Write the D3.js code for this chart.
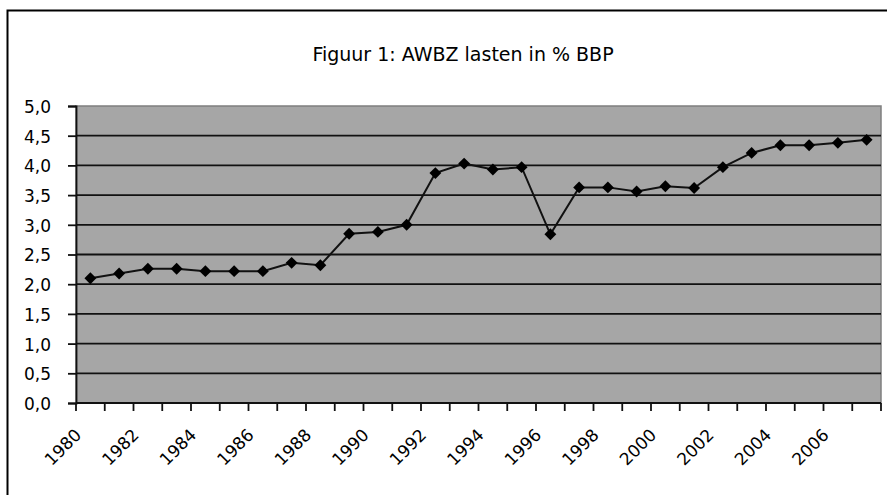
<!DOCTYPE html>
<html>
<head>
<meta charset="utf-8">
<script src="https://cdn.jsdelivr.net/npm/d3@7"></script>
<style>
  body { margin: 0; background: #fff; }
  svg { display: block; font-family: "DejaVu Sans", sans-serif; }
</style>
</head>
<body>
<div class="chart"></div>
<script>
'use strict';

const years = d3.range(1980, 2008).map(String);
const lasten = [2.10, 2.18, 2.26, 2.26, 2.22, 2.22, 2.22, 2.36, 2.32, 2.85,
                2.88, 3.00, 3.87, 4.03, 3.93, 3.97, 2.84, 3.63, 3.63, 3.56,
                3.65, 3.62, 3.97, 4.21, 4.34, 4.34, 4.38, 4.43];
const yTicks = [0, 0.5, 1, 1.5, 2, 2.5, 3, 3.5, 4, 4.5, 5];
const title = "Figuur 1: AWBZ lasten in % BBP";

(function() {
    const svg = d3.select('.chart').append('svg')
        .attr('width', 887).attr('height', 495);

    // outer chart frame
    svg.append('path')
        .attr('d', 'M7.5,495 V10.5 H887')
        .attr('fill', 'none')
        .attr('stroke', '#000')
        .attr('stroke-width', 2);

    const plot = { left: 76, right: 881, top: 106, bottom: 403 };

    const xScale = d3.scaleBand()
        .domain(years)
        .range([plot.left, plot.right]);

    const yScale = d3.scaleLinear()
        .domain([0, 5])
        .range([plot.bottom, plot.top]);

    svg.append('rect')
        .attr('x', plot.left).attr('y', plot.top)
        .attr('width', plot.right - plot.left)
        .attr('height', plot.bottom - plot.top)
        .attr('fill', '#a6a6a6')
        .attr('stroke', '#7f7f7f')
        .attr('stroke-width', 1.5);

    // gridlines
    svg.append('g')
        .selectAll('line')
        .data(yTicks.filter(d => d > 0 && d < 5))
        .enter().append('line')
        .attr('x1', plot.left).attr('x2', plot.right)
        .attr('y1', d => yScale(d)).attr('y2', d => yScale(d))
        .attr('stroke', '#111')
        .attr('stroke-width', 1.8);

    // y axis
    let yAxis = d3.axisLeft(yScale)
        .tickValues(yTicks)
        .tickSize(8)
        .tickFormat(d => d3.format('.1f')(d).replace('.', ','));
    let yg = svg.append('g')
        .attr('transform', `translate(${plot.left}, 0)`)
        .call(yAxis);
    yg.select('.domain').attr('stroke', '#111').attr('stroke-width', 1.8);
    yg.selectAll('.tick line').attr('stroke', '#111').attr('stroke-width', 1.8);
    yg.selectAll('.tick text')
        .attr('fill', '#000')
        .style('font-size', '17px')
        .style('font-family', '"DejaVu Sans", sans-serif')
        .attr('x', -25)
        .attr('dy', '0.38em');

    // x axis: ticks between categories
    let boundaries = years.map(d => xScale(d)).concat([plot.right]);
    let xg = svg.append('g');
    xg.append('line')
        .attr('x1', plot.left).attr('x2', plot.right)
        .attr('y1', plot.bottom).attr('y2', plot.bottom)
        .attr('stroke', '#111').attr('stroke-width', 2);
    xg.selectAll('.xtick')
        .data(boundaries)
        .enter().append('line')
        .attr('class', 'xtick')
        .attr('x1', d => d).attr('x2', d => d)
        .attr('y1', plot.bottom).attr('y2', plot.bottom + 8)
        .attr('stroke', '#111').attr('stroke-width', 1.8);

    xg.selectAll('.xlabel')
        .data(years.filter((d, i) => i % 2 === 0))
        .enter().append('text')
        .attr('class', 'xlabel')
        .attr('text-anchor', 'end')
        .attr('transform', d => {
            let cx = xScale(d) + xScale.bandwidth() / 2 - 8;
            return `translate(${cx}, 436)rotate(-45)`;
        })
        .style('font-size', '17px')
        .text(d => d);

    // line + markers
    let data = years.map((y, i) => ({ year: y, value: lasten[i] }));
    let xMap = d => xScale(d.year) + xScale.bandwidth() / 2;
    let yMap = d => yScale(d.value);

    let line = d3.line().x(xMap).y(yMap);
    svg.append('path')
        .attr('d', line(data))
        .attr('fill', 'none')
        .attr('stroke', '#111')
        .attr('stroke-width', 2);

    svg.selectAll('.dot')
        .data(data)
        .enter().append('path')
        .attr('class', 'dot')
        .attr('d', d3.symbol().type(d3.symbolDiamond2).size(90))
        .attr('transform', d => `translate(${xMap(d)}, ${yMap(d)})`)
        .attr('fill', '#000');

    // title
    svg.append('text')
        .attr('x', 463)
        .attr('y', 61)
        .attr('text-anchor', 'middle')
        .style('font-size', '19px')
        .text(title);
})();
</script>
</body>
</html>
